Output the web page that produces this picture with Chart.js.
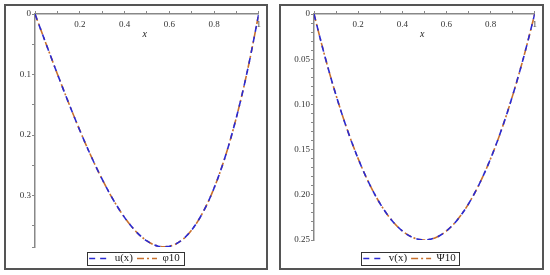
<!DOCTYPE html>
<html>
<head>
  <title>u(x) vs phi10, v(x) vs Psi10</title>
  <style>
    body { margin: 0; background: #fff; }
    .panel { position: absolute; top: 4px; height: 262px; border: 2px solid #555; background: #fff; overflow: hidden; }
    #p1 { left: 4px; width: 260px; }
    #p2 { left: 279px; width: 261px; }
    canvas { display: block; }
  </style>
</head>
<body>

  <div class="panel" id="p1"><canvas id="leftChart" width="260" height="272"></canvas></div>
  <div class="panel" id="p2"><canvas id="rightChart" width="261" height="272"></canvas></div>

  <script src="https://cdn.jsdelivr.net/npm/chart.js"></script>
  <script>
    // values (y axis drawn downward)
    const xValues = [0, 0.05, 0.1, 0.15, 0.2, 0.25, 0.3, 0.35, 0.4, 0.45, 0.5,
                     0.55, 0.6, 0.65, 0.7, 0.75, 0.8, 0.85, 0.9, 0.95, 1];
    const uValues = [0, 0.0499, 0.099, 0.1466, 0.192, 0.2344, 0.273, 0.3071, 0.336, 0.3589, 0.375,
                     0.3836, 0.384, 0.3754, 0.357, 0.3281, 0.288, 0.2359, 0.171, 0.0926, 0];
    const phi10Values = [0, 0.0499, 0.099, 0.1466, 0.192, 0.2344, 0.273, 0.3071, 0.336, 0.3589, 0.375,
                     0.3836, 0.384, 0.3754, 0.357, 0.3281, 0.288, 0.2359, 0.171, 0.0926, 0];
    const vValues = [0, 0.0475, 0.09, 0.1275, 0.16, 0.1875, 0.21, 0.2275, 0.24, 0.2475, 0.25,
                     0.2475, 0.24, 0.2275, 0.21, 0.1875, 0.16, 0.1275, 0.09, 0.0475, 0];
    const psi10Values = [0, 0.0475, 0.09, 0.1275, 0.16, 0.1875, 0.21, 0.2275, 0.24, 0.2475, 0.25,
                     0.2475, 0.24, 0.2275, 0.21, 0.1875, 0.16, 0.1275, 0.09, 0.0475, 0];

    const xTickLabels = ['0.2', '0.4', '0.6', '0.8', '1'];
    const leftYTickLabels = ['0', '0.1', '0.2', '0.3'];
    const rightYTickLabels = ['0', '0.05', '0.10', '0.15', '0.20', '0.25'];

    const serif = 'Liberation Serif';
    const blue = '#2a2ad2';
    const orange = '#c8702c';

    function pick(labels) {
      return function(value) {
        const hit = labels.find(t => Math.abs(parseFloat(t) - value) < 1e-6);
        return hit === undefined ? '' : hit;
      };
    }

    function points(ys) {
      return xValues.map((x, i) => ({ x: x, y: ys[i] }));
    }

    // legend samples should carry the dataset dash pattern
    function legendLabels(chart) {
      const items = Chart.defaults.plugins.legend.labels.generateLabels(chart);
      items.forEach(item => {
        const ds = chart.data.datasets[item.datasetIndex];
        item.lineDash = ds.borderDash;
        item.lineWidth = ds.borderWidth;
        item.strokeStyle = ds.borderColor;
      });
      return items;
    }

    // frame around the legend + italic x label under the top axis
    const extras = {
      id: 'extras',
      afterDraw(chart) {
        const ctx = chart.ctx;
        const hb = chart.legend.legendHitBoxes;
        if (hb && hb.length) {
          const last = hb[hb.length - 1];
          const left = hb[0].left - 2;
          const right = last.left + last.width + 4;
          ctx.save();
          ctx.strokeStyle = '#333';
          ctx.lineWidth = 1;
          ctx.strokeRect(Math.round(left) + 0.5, Math.round(hb[0].top - 1) + 0.5,
                         Math.round(right - left), Math.round(hb[0].height + 2));
          ctx.restore();
        }
        const xs = chart.scales.x;
        ctx.save();
        ctx.font = 'italic 10px ' + serif;
        ctx.fillStyle = '#222';
        ctx.textAlign = 'center';
        ctx.textBaseline = 'middle';
        ctx.fillText('x', xs.getPixelForValue(0.49), xs.bottom + 20);
        ctx.restore();
      }
    };

    function makeChart(id, cfg) {
      const ctx = document.getElementById(id).getContext('2d');
      return new Chart(ctx, {
        type: 'line',
        data: {
          datasets: [{
            label: cfg.names[0],
            data: points(cfg.a),
            borderColor: blue,
            borderWidth: 1.6,
            borderDash: [6, 5],
            pointRadius: 0,
            tension: 0.35
          }, {
            label: cfg.names[1],
            data: points(cfg.b),
            borderColor: orange,
            borderWidth: 1.6,
            borderDash: [7, 3, 2, 3],
            pointRadius: 0,
            tension: 0.35
          }]
        },
        options: {
          responsive: false,
          animation: false,
          devicePixelRatio: 1,
          layout: { padding: { left: 0, right: cfg.padRight, top: 0, bottom: 4 } },
          scales: {
            x: {
              type: 'linear',
              position: 'top',
              min: 0,
              max: 1,
              grid: { drawOnChartArea: false, tickLength: 3, color: '#888' },
              border: { color: '#888', width: 1.5 },
              ticks: {
                stepSize: 0.1,
                autoSkip: false,
                maxRotation: 0,
                mirror: true,
                padding: 5,
                color: '#333',
                font: { family: serif, size: 9 },
                callback: pick(xTickLabels)
              },
              afterFit: s => { s.height = 8; }
            },
            y: {
              type: 'linear',
              reverse: true,
              min: 0,
              max: cfg.yMax,
              grid: { drawOnChartArea: false, tickLength: 3, color: '#888' },
              border: { color: '#888', width: 1.5 },
              ticks: {
                stepSize: cfg.yStep,
                autoSkip: false,
                padding: 1,
                color: '#333',
                font: { family: serif, size: 9 },
                callback: pick(cfg.yLabels)
              },
              afterFit: s => { s.width = cfg.yWidth; }
            },
            gap: {
              type: 'linear',
              position: 'bottom',
              display: true,
              grid: { display: false },
              border: { display: false },
              ticks: { display: false },
              afterFit: s => { s.height = cfg.gap; }
            }
          },
          plugins: {
            legend: {
              position: 'bottom',
              labels: {
                usePointStyle: true,
                pointStyle: 'line',
                pointStyleWidth: 20,
                padding: 4,
                color: '#222',
                font: { family: serif, size: 11 },
                generateLabels: legendLabels
              }
            },
            tooltip: { enabled: false }
          }
        },
        plugins: [extras]
      });
    }

    makeChart('leftChart', {
      names: ['u(x)', 'φ10'], a: uValues, b: phi10Values,
      yMax: 0.385, yStep: 0.05, yLabels: leftYTickLabels,
      yWidth: 29, padRight: 3, gap: 2
    });

    makeChart('rightChart', {
      names: ['v(x)', 'Ψ10'], a: vValues, b: psi10Values,
      yMax: 0.25, yStep: 0.01, yLabels: rightYTickLabels,
      yWidth: 33, padRight: 4, gap: 9
    });
  </script>

</body>
</html>
